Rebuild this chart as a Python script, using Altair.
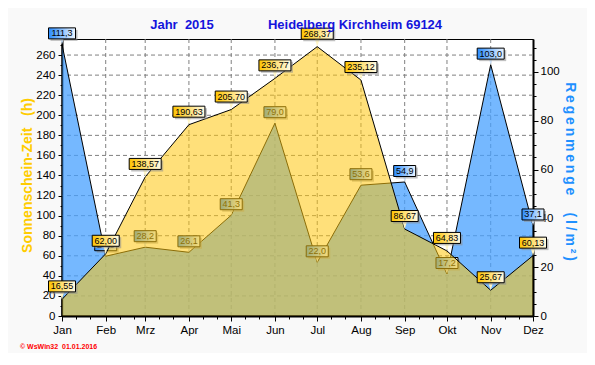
import altair as alt
import pandas as pd

# ---------------- data ----------------
months = ["Jan", "Feb", "Mrz", "Apr", "Mai", "Jun", "Jul", "Aug", "Sep", "Okt", "Nov", "Dez"]
sunshine = [16.55, 62.00, 138.57, 190.63, 205.70, 236.77, 268.37, 235.12, 86.67, 64.83, 25.67, 60.13]
rain = [111.3, 24.5, 28.2, 26.1, 41.3, 79.0, 22.0, 53.6, 54.9, 17.2, 103.0, 37.1]
left_grid = [20, 40, 60, 80, 100, 120, 140, 160, 180, 200, 220, 240, 260]
left_ticks = list(range(0, 271, 10))
right_ticks = list(range(0, 111, 5))
title_a = "Jahr\u00a0\u00a02015"
title_b = "Heidelberg Kirchheim 69124"
footer = "\u00a9\u00a0WsWin32\u00a0\u00a001.01.2016"

starts = pd.date_range("2015-01-01", periods=12, freq="MS")
day = [int((d - starts[0]).days) for d in starts]
minor_days = [d + k for d in day[:-1] for k in (10, 20)]


def fmt(v, n):
    return f"{v:.{n}f}".replace(".", ",")


df = pd.DataFrame({
    "month": months, "day": day, "sun": sunshine, "rain": rain,
    "sun_lbl": [fmt(v, 2) for v in sunshine],
    "rain_lbl": [fmt(v, 1) for v in rain],
})
df["sun_len"] = df["sun_lbl"].str.len()
df["rain_len"] = df["rain_lbl"].str.len()

FONT = "Liberation Sans"
SUN_MAX = 276
RAIN_MAX = 113.5

month_arr = "[" + ",".join(map(str, day)) + "]"
name_arr = "[" + ",".join(f"'{m}'" for m in months) + "]"
is_month = f"indexof({month_arr}, datum.value) >= 0"

x = alt.X(
    "day:Q",
    scale=alt.Scale(domain=[0, day[-1]], nice=False, zero=False),
    axis=alt.Axis(
        values=sorted(day + minor_days),
        labelExpr=f"{is_month} ? {name_arr}[indexof({month_arr}, datum.value)] : ''",
        title=None, grid=False, domainColor="black", domainWidth=2,
        tickColor="black", tickWidth=1,
        tickSize={"condition": {"test": is_month, "value": 5}, "value": 3},
        labelFont=FONT, labelFontSize=11.5, labelColor="black", labelPadding=3,
        labelFlush=False, labelOverlap=False, zindex=0,
    ),
)

y_sun = alt.Y(
    "sun:Q",
    scale=alt.Scale(domain=[0, SUN_MAX], nice=False, zero=True),
    axis=alt.Axis(
        orient="left", values=left_ticks,
        labelExpr="datum.value % 20 == 0 ? datum.label : ''",
        tickSize={"condition": {"test": "datum.value % 20 == 0", "value": 4}, "value": 2},
        title="Sonnenschein-Zeit\u00a0\u00a0\u00a0(h)", titleX=-35, titleY=136, titleAngle=270,
        titleAlign="center", titleBaseline="middle", titleFont=FONT, titleFontSize=14,
        titleFontWeight="bold", titleColor="#ffcc00",
        grid=False, domainColor="black", domainWidth=2, tickColor="black",
        labelFont=FONT, labelFontSize=11.5, labelColor="black", labelPadding=3,
        labelOverlap=False, zindex=0,
    ),
)


def spaced(s):
    return "\u2009".join(s)


y_rain = alt.Y(
    "rain:Q",
    scale=alt.Scale(domain=[0, RAIN_MAX], nice=False, zero=True),
    axis=alt.Axis(
        orient="right", values=right_ticks,
        labelExpr="datum.value % 20 == 0 ? datum.label : ''",
        tickSize={"condition": {"test": "datum.value % 20 == 0", "value": 5}, "value": 3},
        title=spaced("Regenmenge") + "\u2009\u00a0\u00a0\u00a0\u2009" + spaced("(l/m\u00b2)"),
        titleX=36, titleY=132, titleAngle=90,
        titleAlign="center", titleBaseline="middle", titleFont=FONT, titleFontSize=14,
        titleFontWeight="bold", titleColor="#1e90ff",
        grid=False, domainColor="black", domainWidth=2, tickColor="black",
        labelFont=FONT, labelFontSize=11.5, labelColor="black", labelPadding=2,
        labelOverlap=False, zindex=0,
    ),
)

# ---------------- grid ----------------
xgrid = alt.Chart(df).transform_filter(f"datum.day > 0 && datum.day < {day[-1]}").mark_rule(
    color="#808080", strokeDash=[4, 3], strokeWidth=1
).encode(x=x)
ygrid = alt.Chart(pd.DataFrame({"v": left_grid})).mark_rule(
    color="#808080", strokeDash=[4, 3], strokeWidth=1
).encode(y=alt.Y("v:Q", scale=alt.Scale(domain=[0, SUN_MAX], nice=False), axis=None))
grid = alt.layer(xgrid, ygrid)


# ---------------- labels ----------------
def label_layers(y_enc, lbl, lenfield, offset, c0, c1, tail_color, tail_h):
    layers = []
    base = alt.Chart(df)
    tail = base.mark_point(
        shape="M-0.6,-1L0.6,-1L0,1Z", filled=True, color=tail_color, opacity=1,
        size=(tail_h * tail_h), yOffset=-tail_h / 2,
    ).encode(x=x, y=y_enc)
    layers.append(tail)
    grad = alt.Gradient(
        gradient="linear",
        stops=[alt.GradientStop(color=c0, offset=0), alt.GradientStop(color=c1, offset=1)],
        x1=0, x2=1, y1=0, y2=0,
    )
    for n in sorted(df[lenfield].unique()):
        n = int(n)
        w = 5 * n + 2
        sub = base.transform_filter(f"datum.{lenfield} == {n}")
        layers.append(sub.mark_rect(
            width=w, height=11, xOffset=2, yOffset=offset + 2, color="#8c8c8c", opacity=0.55
        ).encode(x=x, y=y_enc))
        layers.append(sub.mark_rect(
            width=w, height=11, yOffset=offset, fill=grad, stroke="black", strokeWidth=1
        ).encode(x=x, y=y_enc))
    layers.append(base.mark_text(
        yOffset=offset, font=FONT, fontSize=9, baseline="middle", align="center", color="black"
    ).encode(x=x, y=y_enc, text=f"{lbl}:N"))
    return layers


rain_area = alt.Chart(df).mark_area(
    fill="#47a0ff", fillOpacity=0.75, stroke="black", strokeWidth=1
).encode(x=x, y=y_rain)
rain_layer = alt.layer(
    rain_area,
    *label_layers(y_rain, "rain_lbl", "rain_len", -11, "#2a8cff", "#eef6ff", "#cfe6ff", 5.5),
)

sun_area = alt.Chart(df).mark_area(
    fill="#ffc70d", fillOpacity=0.55, stroke="black", strokeWidth=1, strokeOpacity=1
).encode(x=x, y=y_sun)
sun_layer = alt.layer(
    sun_area,
    *label_layers(y_sun, "sun_lbl", "sun_len", -13, "#ffc400", "#fffbe8", "#fff6c8", 7.5),
)

# ---------------- texts outside the plot ----------------
text_df = pd.DataFrame({"t": [footer]})
foot = alt.Chart(text_df).mark_text(
    font=FONT, fontSize=7, fontWeight="bold", color="#ff0000", align="left", baseline="middle"
).encode(x=alt.value(-42), y=alt.value(308), text="t:N")

ttl_df = pd.DataFrame({"t": [title_a, title_b], "pos": [120, 293]})
ttl_a = alt.Chart(pd.DataFrame({"t": [title_a]})).mark_text(
    font=FONT, fontSize=13, fontWeight="bold", color="#1414dc", align="center",
    baseline="alphabetic"
).encode(x=alt.value(120), y=alt.value(-10.5), text="t:N")
ttl_b = alt.Chart(pd.DataFrame({"t": [title_b]})).mark_text(
    font=FONT, fontSize=13, fontWeight="bold", color="#1414dc", align="center",
    baseline="alphabetic"
).encode(x=alt.value(293), y=alt.value(-10.5), text="t:N")

chart = alt.layer(grid, rain_layer, sun_layer, foot, ttl_a, ttl_b).resolve_scale(
    y="independent"
).properties(
    width=471, height=277,
    padding={"left": 54, "top": 31, "right": 54, "bottom": 37},
    autosize=alt.AutoSizeParams(type="none"),
    background="#f9f9f9",
).configure_view(stroke="black", strokeWidth=1, fill="#ffffff")

chart.save("out.html", embed_options={"renderer": "svg", "actions": False})
